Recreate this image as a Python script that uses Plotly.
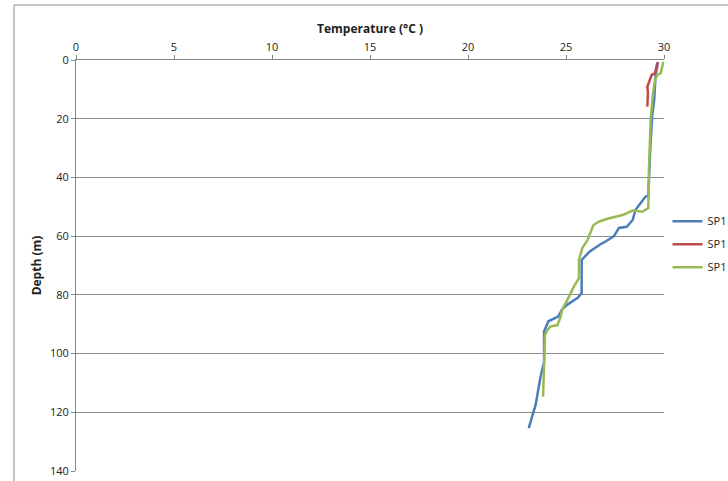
import plotly.graph_objects as go

# Series 1 (blue)
blue_temp = [29.7, 29.57, 29.5, 29.4, 29.3, 29.25, 29.2, 29.06, 28.7, 28.55, 28.4, 28.1, 27.7, 27.45,
             27.0, 26.7, 26.2, 25.8, 25.8, 25.6, 25.05, 24.8, 24.6, 24.1, 23.88, 23.88, 23.7, 23.6,
             23.45, 23.27, 23.1]
blue_depth = [0.7, 5.1, 13.6, 18.7, 30, 40, 46.2, 46.5, 49.4, 51, 54.5, 56.8, 57.2, 60,
              61.9, 63, 65.3, 68.1, 79.4, 81, 83.4, 85, 87.4, 89, 92.5, 103, 107.9, 112.4,
              117.5, 121.5, 125.4]

# Series 2 (red)
red_temp = [29.66, 29.54, 29.37, 29.2, 29.15, 29.18, 29.15]
red_depth = [0.9, 4.5, 5.1, 7.9, 9.1, 11.3, 15.9]

# Series 3 (green)
green_temp = [29.97, 29.83, 29.66, 29.54, 29.44, 29.32, 29.23, 29.2, 29.2, 28.9, 28.4, 27.9, 27.2,
              26.7, 26.4, 26.26, 26.1, 25.83, 25.66, 25.66, 25.4, 25.07, 24.8, 24.73, 24.56, 24.2,
              24.05, 23.93, 23.83]
green_depth = [0.6, 4.5, 5.1, 6.8, 11.3, 20.4, 37.5, 49, 50.4, 51.7, 51.3, 52.8, 53.9,
               55, 56.2, 58.5, 61.3, 64.1, 68.1, 74.3, 77.2, 81.7, 85.1, 87.4, 90.3, 90.8,
               92, 93.7, 114.7]

series_names = ["SP1", "SP1", "SP1"]
x_ticks = [0, 5, 10, 15, 20, 25, 30]
y_ticks = [0, 20, 40, 60, 80, 100, 120, 140]

FONT = "Open Sans"
fig = go.Figure()
for i, (t, d, name, col) in enumerate([(blue_temp, blue_depth, series_names[0], "#4A7EBB"),
                                       (red_temp, red_depth, series_names[1], "#BE4B48"),
                                       (green_temp, green_depth, series_names[2], "#98B954")]):
    fig.add_trace(go.Scatter(x=t, y=d, mode="lines", name=name, legendgroup=f"g{i}",
                             line=dict(color=col, width=2.5)))

fig.update_layout(
    width=728, height=481,
    margin=dict(l=76, r=64, t=60, b=10, autoexpand=False),
    paper_bgcolor="white", plot_bgcolor="white",
    font=dict(family=FONT, size=11, color="#222"),
    legend=dict(x=1.006, y=0.552, xanchor="left", yanchor="middle",
                font=dict(size=11, color="#222"), itemwidth=30,
                tracegroupgap=4, bgcolor="rgba(0,0,0,0)"),
    xaxis=dict(side="top", range=[0, 30], tickvals=x_ticks, showgrid=False,
               showline=True, linecolor="#868686", linewidth=1,
               ticks="outside", ticklen=4, tickcolor="#868686", zeroline=False,
               tickfont=dict(color="#222"),
               title=dict(text="<b>Temperature (°C )</b>", font=dict(size=12), standoff=2)),
    yaxis=dict(range=[140, 0], tickvals=y_ticks, showgrid=True, gridcolor="#8c8c8c",
               gridwidth=1, showline=True, linecolor="#868686", linewidth=1,
               ticks="outside", ticklen=4, tickcolor="#868686", zeroline=False,
               title=dict(text="<b>Depth (m)</b>", font=dict(size=12), standoff=5)),
    shapes=[dict(type="rect", xref="paper", yref="paper", x0=-0.1054, x1=1.3,
                 y0=-0.2, y1=1.1338, line=dict(color="#8a8a8a", width=1),
                 fillcolor="rgba(0,0,0,0)", layer="below")],
)

fig.write_html("out.html")
